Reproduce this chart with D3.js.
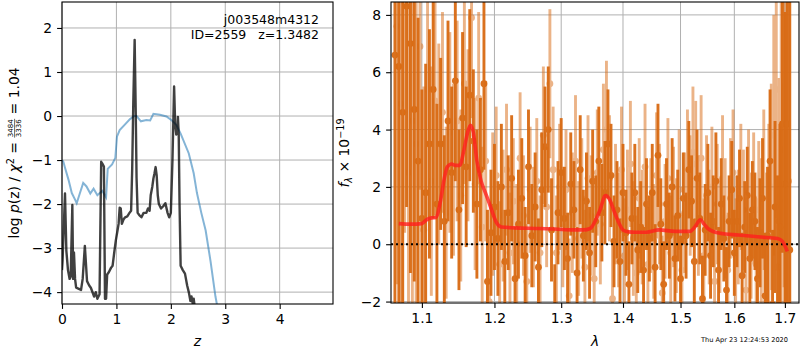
<!DOCTYPE html>
<html>
<head>
<meta charset="utf-8">
<script src="https://cdn.jsdelivr.net/npm/d3@7"></script>
<style>
  body { margin: 0; background: #fff; }
  svg { font-family: "DejaVu Sans", sans-serif; }
</style>
</head>
<body>
<svg id="fig" width="800" height="350"></svg>
<script>
// ---------------- data: left panel (redshift fit) ----------------
const pzZ = [0.00, 0.01, 0.055, 0.08, 0.11, 0.14, 0.16, 0.19, 0.205, 0.22, 0.24, 0.26, 0.30, 0.35, 0.38,
  0.42, 0.46, 0.50, 0.53, 0.59, 0.62, 0.65, 0.69, 0.72, 0.75, 0.77, 0.79, 0.81, 0.83, 0.86, 0.90, 0.93,
  0.96, 0.99, 1.02, 1.04, 1.06, 1.08, 1.10, 1.13, 1.16, 1.20, 1.24, 1.27, 1.29, 1.31, 1.335, 1.355, 1.37,
  1.39, 1.42, 1.46, 1.50, 1.55, 1.58, 1.61, 1.63, 1.66, 1.68, 1.70, 1.72, 1.74, 1.76, 1.78, 1.82, 1.86,
  1.90, 1.94, 1.97, 2.00, 2.03, 2.06, 2.08, 2.10, 2.12, 2.13, 2.145, 2.16, 2.18, 2.22, 2.26, 2.30, 2.33,
  2.36, 2.38, 2.40, 2.42, 2.44];
const pzLog = [-3.5, -3.3, -1.76, -3.06, -3.5, -3.7, -3.65, -2.02, -3.7, -3.1, -3.7, -3.9, -3.92, -3.95, -3.7,
  -2.95, -3.75, -3.85, -3.9, -4.1, -4.0, -4.15, -4.05, -1.04, -1.1, -1.15, -4.15, -4.15, -3.6, -3.55, -3.45, -3.4,
  -3.1, -2.82, -2.6, -2.45, -2.08, -2.1, -2.45, -2.35, -2.3, -2.28, -2.2, -2.15, -1.2, 0.3, 1.73, 0.1, -1.4,
  -2.2, -2.25, -2.3, -2.2, -2.2, -2.1, -2.15, -1.8, -1.6, -1.42, -1.3, -1.16, -1.35, -1.8, -2.0, -2.1, -2.05,
  -1.98, -2.2, -2.3, -2.2, -1.0, 0.67, -0.2, -0.42, -0.35, -0.02, -0.42, -2.0, -3.4, -3.5, -3.58, -3.85, -4.0,
  -4.2, -4.1, -4.25, -4.15, -4.35];

const chiZ = [0.00, 0.025, 0.05, 0.12, 0.18, 0.24, 0.27, 0.33, 0.39, 0.45, 0.52, 0.58, 0.65, 0.74, 0.81,
  0.84, 0.92, 0.98, 1.01, 1.06, 1.15, 1.25, 1.33, 1.37, 1.45, 1.55, 1.62, 1.68, 1.80, 1.92, 2.02, 2.10,
  2.18, 2.33, 2.42, 2.48, 2.56, 2.64, 2.73, 2.82, 2.88];
const chiVal = [-1.0, -1.04, -1.15, -1.45, -1.75, -1.9, -1.98, -1.75, -1.52, -1.6, -1.76, -1.65, -1.8, -1.7, -1.85,
  -1.2, -1.1, -0.95, -0.47, -0.32, -0.2, -0.07, 0.0, 0.0, -0.12, -0.09, -0.1, 0.05, 0.03, -0.01, -0.1, -0.2,
  -0.4, -0.85, -1.3, -1.75, -2.2, -2.6, -3.3, -4.1, -4.5];

const zTicks = [0, 1, 2, 3, 4];
const logpTicks = [-4, -3, -2, -1, 0, 1, 2];

// ---------------- data: right panel (spectrum) ----------------
const waveA = [1.065, 1.070, 1.075, 1.080, 1.085, 1.090, 1.095, 1.100, 1.105, 1.110,
  1.115, 1.120, 1.125, 1.130, 1.135, 1.140, 1.145, 1.150, 1.155, 1.160,
  1.165, 1.170, 1.175, 1.180, 1.185, 1.190, 1.195, 1.200, 1.205, 1.210,
  1.215, 1.220, 1.225, 1.230, 1.235, 1.240, 1.245, 1.250, 1.255, 1.260,
  1.265, 1.270, 1.275, 1.280, 1.285, 1.290, 1.295, 1.300, 1.305, 1.310,
  1.315, 1.320, 1.325, 1.330, 1.335, 1.340, 1.345, 1.350, 1.355, 1.360,
  1.365, 1.370, 1.375, 1.380, 1.385, 1.390, 1.395, 1.400, 1.405, 1.410,
  1.415, 1.420, 1.425, 1.430, 1.435, 1.440, 1.445, 1.450, 1.455, 1.460,
  1.465, 1.470, 1.475, 1.480, 1.485, 1.490, 1.495, 1.500, 1.505, 1.510,
  1.515, 1.520, 1.525, 1.530, 1.535, 1.540, 1.545, 1.550, 1.555, 1.560,
  1.565, 1.570, 1.575, 1.580, 1.585, 1.590, 1.595, 1.600, 1.605, 1.610,
  1.615, 1.620, 1.625, 1.630, 1.635, 1.640, 1.645, 1.650, 1.655, 1.660,
  1.665, 1.670, 1.675, 1.680, 1.685, 1.690, 1.695, 1.700, 1.705, 1.710];
const fluxA = [6.6, 6.2, 4.6, 8.3, 7.0, 4.7, 2.9, 0.9, 1.8, 3.5,
  5.4, 1.4, 3.5, 0.8, 4.3, 2.5, 5.7, 1.2, 4.4, 2.7,
  5.2, 3.6, 1.4, 2.6, 5.6, -1.3, 0.4, 1.3, 0.2, 2.0,
  -0.6, 1.1, 2.3, -1.2, 0.7, 1.6, -0.4, 2.7, 0.3, 1.3,
  -0.8, 1.9, 3.4, 4.0, 0.5, -2.3, 1.1, 2.5, 0.9, -0.5,
  2.1, 1.2, -1.0, 2.6, 0.3, 1.5, -0.3, 2.2, 0.8, 2.9,
  1.1, 1.8, 3.5, 2.4, 0.1, 1.2, -0.6, 1.8, 0.4, -1.4,
  0.9, 1.8, -0.2, 0.6, -0.9, 1.4, 0.2, 1.8, -0.8, 3.1,
  0.7, -1.4, 1.4, 0.3, 2.0, -0.5, 1.0, -1.2, 1.6, 0.3,
  2.6, 1.5, -0.6, 2.3, 0.9, -1.9, 0.5, 1.8, -0.4, 0.8,
  2.2, -0.9, 1.4, 0.2, -1.6, 0.8, 1.9, -0.3, 0.8, 1.6,
  -1.1, 0.6, 1.7, -0.5, 1.2, 0.8, -1.2, 0.4, 1.6, -1.8,
  0.3, 2.9, -2.1, 1.3, -0.8, 0.6, 4.2, 2.1, 4.2, -0.2];
const errA = [9, 8.5, 8, 7, 8, 6, 5, 4.5, 4.5, 4,
  4.5, 3.5, 3, 3, 3.5, 3, 3.5, 2.8, 3, 2.8,
  3, 2.5, 2.6, 2.5, 3, 2.5, 2.2, 2.2, 2, 2.2,
  1.8, 2, 2.2, 1.8, 1.9, 2.1, 1.7, 2, 1.8, 1.9,
  1.7, 2, 2.1, 2.2, 1.8, 1.6, 1.8, 1.9, 1.8, 1.6,
  1.8, 1.7, 1.6, 1.9, 1.6, 1.7, 1.6, 1.8, 1.6, 1.9,
  1.7, 1.8, 1.9, 1.8, 1.6, 1.7, 1.5, 1.7, 1.5, 1.5,
  1.6, 1.7, 1.5, 1.6, 1.5, 1.6, 1.5, 1.7, 1.5, 1.8,
  1.6, 1.5, 1.6, 1.5, 1.7, 1.5, 1.6, 1.5, 1.6, 1.5,
  1.7, 1.6, 1.5, 1.7, 1.6, 1.5, 1.6, 1.7, 1.5, 1.6,
  1.7, 1.5, 1.6, 1.5, 1.5, 1.6, 1.7, 1.5, 1.6, 1.7,
  1.5, 1.6, 1.7, 1.6, 1.7, 1.7, 1.8, 1.9, 2.1, 2.2,
  2.4, 2.5, 2.6, 3, 3.2, 3.6, 4.5, 6, 8, 9];

const waveB = [1.0675, 1.0725, 1.0775, 1.0825, 1.0875, 1.0925, 1.0975, 1.1025, 1.1075, 1.1125,
  1.1175, 1.1225, 1.1275, 1.1325, 1.1375, 1.1425, 1.1475, 1.1525, 1.1575, 1.1625,
  1.1675, 1.1725, 1.1775, 1.1825, 1.1875, 1.1925, 1.1975, 1.2025, 1.2075, 1.2125,
  1.2175, 1.2225, 1.2275, 1.2325, 1.2375, 1.2425, 1.2475, 1.2525, 1.2575, 1.2625,
  1.2675, 1.2725, 1.2775, 1.2825, 1.2875, 1.2925, 1.2975, 1.3025, 1.3075, 1.3125,
  1.3175, 1.3225, 1.3275, 1.3325, 1.3375, 1.3425, 1.3475, 1.3525, 1.3575, 1.3625,
  1.3675, 1.3725, 1.3775, 1.3825, 1.3875, 1.3925, 1.3975, 1.4025, 1.4075, 1.4125,
  1.4175, 1.4225, 1.4275, 1.4325, 1.4375, 1.4425, 1.4475, 1.4525, 1.4575, 1.4625,
  1.4675, 1.4725, 1.4775, 1.4825, 1.4875, 1.4925, 1.4975, 1.5025, 1.5075, 1.5125,
  1.5175, 1.5225, 1.5275, 1.5325, 1.5375, 1.5425, 1.5475, 1.5525, 1.5575, 1.5625,
  1.5675, 1.5725, 1.5775, 1.5825, 1.5875, 1.5925, 1.5975, 1.6025, 1.6075, 1.6125,
  1.6175, 1.6225, 1.6275, 1.6325, 1.6375, 1.6425, 1.6475, 1.6525, 1.6575, 1.6625,
  1.6675, 1.6725, 1.6775, 1.6825, 1.6875, 1.6925, 1.6975, 1.7025, 1.7075];
const fluxB = [7.6, 4.9, 8.4, 2.5, 4.3, 3.5, 6.9, 0.5, 5.4, 2.2,
  5.0, 3.5, 4.6, 1.1, 3.9, 2.6, 4.3, 1.7, 5.6, 3.8,
  7.9, 2.1, 5.1, 0.6, 2.9, -2.0, 1.4, 2.4, -0.7, 1.0,
  2.6, -0.3, 1.5, 0.0, 3.0, 1.0, -1.3, 1.9, 0.6, 2.2,
  -0.3, 3.8, 1.3, 5.6, 2.6, -0.3, 2.0, 0.6, 1.9, -1.8,
  1.1, 2.9, 0.2, 1.6, -0.8, 2.3, 1.0, -1.2, 2.5, 0.7,
  3.3, 4.0, 2.3, -1.9, 1.4, 0.5, 2.6, -0.4, 1.2, 2.8,
  0.2, -1.0, 1.6, 0.6, 2.7, -0.7, 1.0, 0.1, 2.4, 1.4,
  -1.7, 0.8, 2.3, -0.3, 1.3, 0.3, 1.9, -0.9, 1.1, 2.5,
  1.7, 3.2, 2.8, 1.0, 3.0, -0.4, 1.7, 0.6, 2.0, -1.3,
  1.4, 0.3, 2.3, 0.9, -0.9, 1.6, 2.5, -0.4, 0.6, 2.0,
  1.2, -1.6, 1.8, 0.3, 1.6, -0.7, 1.2, 0.4, 1.9, -0.5,
  0.9, 2.0, 3.8, 5.4, 0.8, 3.3, 5.5, 1.5, 2.2];
const errB = [9, 9, 8, 8, 7, 6, 5, 5, 4.5, 4,
  4, 3.5, 3.5, 3, 3.5, 3, 3.5, 3, 3.5, 3,
  3.5, 3, 3, 2.8, 2.8, 2.5, 2.5, 2.4, 2.2, 2.3,
  2.3, 2.1, 2.2, 2.1, 2.3, 2.1, 2.0, 2.2, 2.1, 2.2,
  2.0, 2.4, 2.1, 2.6, 2.2, 2.0, 2.2, 2.1, 2.1, 2.0,
  2.1, 2.3, 2.0, 2.1, 2.0, 2.2, 2.1, 2.0, 2.2, 2.1,
  2.3, 2.4, 2.2, 2.1, 2.1, 2.0, 2.2, 2.0, 2.1, 2.2,
  2.0, 2.0, 2.1, 2.0, 2.2, 2.0, 2.0, 2.0, 2.2, 2.1,
  2.0, 2.0, 2.1, 2.0, 2.1, 2.0, 2.1, 2.0, 2.1, 2.2,
  2.1, 2.3, 2.2, 2.1, 2.2, 2.0, 2.1, 2.0, 2.1, 2.0,
  2.1, 2.0, 2.2, 2.1, 2.0, 2.1, 2.2, 2.0, 2.0, 2.2,
  2.1, 2.1, 2.2, 2.2, 2.3, 2.3, 2.4, 2.6, 2.8, 3.0,
  3.3, 3.6, 4.2, 4.5, 5, 6, 7, 8, 9];

// best-fit model
const modelWave = [1.070, 1.085, 1.100, 1.106, 1.113, 1.119, 1.124, 1.130, 1.134, 1.140, 1.145, 1.151,
  1.157, 1.162, 1.166, 1.170, 1.175, 1.181, 1.187, 1.193, 1.198, 1.203, 1.210, 1.230, 1.260, 1.290,
  1.320, 1.335, 1.346, 1.355, 1.362, 1.371, 1.378, 1.386, 1.393, 1.400, 1.410, 1.420, 1.440, 1.462,
  1.490, 1.517, 1.526, 1.536, 1.543, 1.550, 1.573, 1.608, 1.652, 1.685, 1.695, 1.700, 1.705];
const modelFlux = [0.72, 0.70, 0.72, 0.85, 0.92, 0.93, 1.4, 2.3, 2.7, 2.8, 2.75, 2.75,
  3.3, 3.9, 4.15, 3.9, 2.9, 2.2, 1.8, 1.4, 1.05, 0.75, 0.6, 0.57, 0.55, 0.53,
  0.5, 0.5, 0.55, 0.85, 1.2, 1.7, 1.55, 1.1, 0.75, 0.5, 0.43, 0.42, 0.42, 0.5,
  0.45, 0.45, 0.6, 0.85, 0.7, 0.55, 0.38, 0.32, 0.25, 0.2, 0.1, -0.05, -0.25];

const waveTicks = [1.1, 1.2, 1.3, 1.4, 1.5, 1.6, 1.7];
const fluxTicks = [-2, 0, 2, 4, 6, 8];

// ---------------- figure ----------------
const svg = d3.select('#fig');
const fs = 13.9;

const xL = d3.scaleLinear().domain([0, 4.98]).range([62, 333]);
const yL = d3.scaleLinear().domain([-4.27, 2.59]).range([304, 2]);
const xR = d3.scaleLog().domain([1.060, 1.729]).range([391, 799]);
const yR = d3.scaleLinear().domain([-2.05, 8.45]).range([303, 2]);

function panel(id, x, y, xt, yt, xfmt, yfmt) {
  const [x0, x1] = x.range();
  const [y1, y0] = y.range();
  const g = svg.append('g');
  svg.append('clipPath').attr('id', id).append('rect')
    .attr('x', x0).attr('y', y0).attr('width', x1 - x0).attr('height', y1 - y0);

  // grid
  g.selectAll('.gx').data(xt).enter().append('line')
    .attr('x1', d => x(d)).attr('x2', d => x(d)).attr('y1', y0).attr('y2', y1)
    .attr('stroke', '#b0b0b0').attr('stroke-width', 1);
  g.selectAll('.gy').data(yt).enter().append('line')
    .attr('x1', x0).attr('x2', x1).attr('y1', d => y(d)).attr('y2', d => y(d))
    .attr('stroke', '#b0b0b0').attr('stroke-width', 1);

  const ax = svg.append('g').attr('transform', `translate(0,${y1})`)
    .call(d3.axisBottom(x).tickValues(xt).tickFormat(xfmt).tickSize(4.9).tickPadding(4.9));
  const ay = svg.append('g').attr('transform', `translate(${x0},0)`)
    .call(d3.axisLeft(y).tickValues(yt).tickFormat(yfmt).tickSize(4.9).tickPadding(4.9));
  [ax, ay].forEach(a => {
    a.select('.domain').remove();
    a.attr('font-family', 'DejaVu Sans').attr('font-size', fs);
    a.selectAll('line').attr('stroke', '#000').attr('stroke-width', 1.1);
    a.selectAll('text').attr('fill', '#000');
  });
  return { g, x0, x1, y0, y1 };
}

const fmtInt = d3.format('d');
const L = panel('clipL', xL, yL, zTicks, logpTicks, fmtInt, fmtInt);
const R = panel('clipR', xR, yR, waveTicks, fluxTicks, d3.format('.1f'), fmtInt);

// left curves
const plotL = svg.append('g').attr('clip-path', 'url(#clipL)');
plotL.append('path')
  .attr('d', d3.line().x(d => xL(d[0])).y(d => yL(d[1]))(d3.zip(chiZ, chiVal)))
  .attr('fill', 'none').attr('stroke', '#1f77b4').attr('stroke-opacity', 0.55).attr('stroke-width', 2);
plotL.append('path')
  .attr('d', d3.line().x(d => xL(d[0])).y(d => yL(d[1]))(d3.zip(pzZ, pzLog)))
  .attr('fill', 'none').attr('stroke', '#000').attr('stroke-opacity', 0.75).attr('stroke-width', 2.4)
  .attr('stroke-linejoin', 'round');

// right: error bars
const plotR = svg.append('g').attr('clip-path', 'url(#clipR)');
function errSeries(data, color, op) {
  const g = plotR.append('g').attr('opacity', op);
  g.selectAll('line').data(data).enter().append('line')
    .attr('x1', d => xR(d[0])).attr('x2', d => xR(d[0]))
    .attr('y1', d => yR(d[1] - d[2])).attr('y2', d => yR(d[1] + d[2]))
    .attr('stroke', color).attr('stroke-width', 2.9);
  g.selectAll('circle').data(data).enter().append('circle')
    .attr('cx', d => xR(d[0])).attr('cy', d => yR(d[1])).attr('r', 3.4)
    .attr('fill', color);
}
errSeries(d3.zip(waveB, fluxB, errB), '#d96a12', 0.5);
errSeries(d3.zip(waveA, fluxA, errA), '#d96a12', 0.95);

plotR.append('line')
  .attr('x1', R.x0).attr('x2', R.x1).attr('y1', yR(0)).attr('y2', yR(0))
  .attr('stroke', '#000').attr('stroke-width', 2).attr('stroke-dasharray', '2,3');

plotR.append('path')
  .attr('d', d3.line().x(d => xR(d[0])).y(d => yR(d[1])).curve(d3.curveMonotoneX)(d3.zip(modelWave, modelFlux)))
  .attr('fill', 'none').attr('stroke', '#ff1e1e').attr('stroke-opacity', 0.8).attr('stroke-width', 3.6);

// frames
[L, R].forEach(p => {
  svg.append('rect').attr('x', p.x0).attr('y', p.y0).attr('width', p.x1 - p.x0).attr('height', p.y1 - p.y0)
    .attr('fill', 'none').attr('stroke', '#000').attr('stroke-width', 1.1);
});

// annotation
svg.append('text').attr('x', 319).attr('y', 24).attr('text-anchor', 'end').attr('font-size', 12.5).text('j003548m4312');
svg.append('text').attr('x', 319).attr('y', 39).attr('text-anchor', 'end').attr('font-size', 12.5)
  .style('white-space', 'pre').text('ID=2559   z=1.3482');

// axis labels
svg.append('text').attr('x', (L.x0 + L.x1) / 2).attr('y', 346).attr('text-anchor', 'middle')
  .attr('font-size', fs).attr('font-style', 'italic').text('z');
svg.append('text').attr('x', (R.x0 + R.x1) / 2).attr('y', 346).attr('text-anchor', 'middle')
  .attr('font-size', fs).attr('font-style', 'italic').text('λ');

// left y label with fraction
const gl = svg.append('g').attr('transform', 'translate(19,153) rotate(-90)');
const inner = gl.append('g');
const t1 = inner.append('text').attr('font-size', fs);
t1.append('tspan').text('log ');
t1.append('tspan').attr('font-style', 'italic').text('p');
t1.append('tspan').text('(z) / ');
t1.append('tspan').attr('font-style', 'italic').text('χ');
t1.append('tspan').attr('font-size', 9.7).attr('dy', -5.5).text('2');
t1.append('tspan').attr('dy', 5.5).style('white-space', 'pre').text(' = ');
let cx = t1.node().getComputedTextLength();
const num = inner.append('text').attr('font-size', 7).attr('text-anchor', 'middle').attr('y', -5.8).text('3484');
const den = inner.append('text').attr('font-size', 7).attr('text-anchor', 'middle').attr('y', 1.6).text('3336');
const fw = Math.max(num.node().getComputedTextLength(), den.node().getComputedTextLength()) + 1;
num.attr('x', cx + fw / 2); den.attr('x', cx + fw / 2);
inner.append('line').attr('x1', cx).attr('x2', cx + fw).attr('y1', -4.4).attr('y2', -4.4)
  .attr('stroke', '#000').attr('stroke-width', 0.6);
cx += fw;
const t2 = inner.append('text').attr('font-size', fs).attr('x', cx).style('white-space', 'pre').text(' = 1.04');
cx += t2.node().getComputedTextLength();
inner.attr('transform', `translate(${-cx / 2},0)`);

// right y label
const gr = svg.append('g').attr('transform', 'translate(349,153) rotate(-90)');
const tr = gr.append('text').attr('font-size', fs).attr('text-anchor', 'middle');
tr.append('tspan').attr('font-style', 'italic').text('f');
tr.append('tspan').attr('font-size', 9.7).attr('font-style', 'italic').attr('dy', 3).text('λ');
tr.append('tspan').attr('dy', -3).style('white-space', 'pre').text(' × 10');
tr.append('tspan').attr('font-size', 9.7).attr('dy', -5.5).text('−19');

// timestamp
svg.append('text').attr('x', 788).attr('y', 342).attr('text-anchor', 'end').attr('font-size', 6.6)
  .text('Thu Apr 23 12:24:53 2020');
</script>
</body>
</html>
